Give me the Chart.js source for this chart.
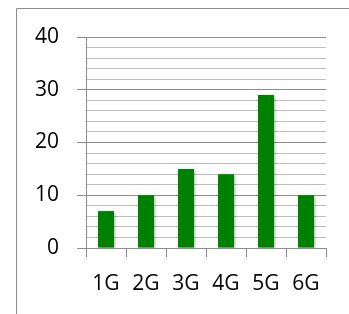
<!DOCTYPE html>
<html>
<head>
<meta charset="utf-8">
<script src="https://cdn.jsdelivr.net/npm/chart.js@4/dist/chart.umd.min.js"></script>
<style>
  html, body { margin: 0; padding: 0; background: #fff; }
  canvas { display: block; }
</style>
</head>
<body>
<canvas id="genChart" width="349" height="314"></canvas>
<script>
const categories = ["1G", "2G", "3G", "4G", "5G", "6G"];
const values = [7, 10, 15, 14, 29, 10];
const yMin = 0;
const yMax = 40;
const yStep = 2;      // minor grid every 2
const yLabelStep = 10; // labels on multiples of 10

const fontFamily = "'Open Sans', 'Liberation Sans', sans-serif";

// outer frame (left + top edges only are visible)
const framePlugin = {
    id: "frame",
    beforeDraw(chart) {
        const ctx = chart.ctx;
        ctx.save();
        ctx.strokeStyle = "#8c8c8c";
        ctx.lineWidth = 1;
        ctx.beginPath();
        ctx.moveTo(16.5, chart.height);
        ctx.lineTo(16.5, 8.5);
        ctx.lineTo(chart.width, 8.5);
        ctx.stroke();
        ctx.restore();
    }
};

// soft shadow under the bars
const shadowPlugin = {
    id: "barShadow",
    beforeDatasetDraw(chart) {
        const ctx = chart.ctx;
        ctx.save();
        ctx.shadowColor = "rgba(0,0,0,0.3)";
        ctx.shadowBlur = 3;
        ctx.shadowOffsetX = 1;
        ctx.shadowOffsetY = 1;
    },
    afterDatasetDraw(chart) {
        chart.ctx.restore();
    }
};

const genChart = new Chart(document.querySelector("#genChart").getContext("2d"), {
    type: "bar",
    data: {
        labels: categories,
        datasets: [
            {
                data: values,
                backgroundColor: "#008000",
                borderWidth: 0,
                categoryPercentage: 1,
                barPercentage: 0.4
            }
        ]
    },
    options: {
        responsive: false,
        animation: false,
        layout: { padding: { top: 37, right: 23, left: 0, bottom: 0 } },
        plugins: {
            legend: { display: false },
            tooltip: { enabled: false }
        },
        scales: {
            x: {
                afterFit(scale) { scale.height = 66; },
                grid: {
                    offset: true,
                    drawOnChartArea: false,
                    tickLength: 9,
                    color: "#8c8c8c"
                },
                border: { color: "#8c8c8c" },
                ticks: {
                    autoSkip: false,
                    maxRotation: 0,
                    padding: 14,
                    color: "#000",
                    font: { family: fontFamily, size: 21 }
                }
            },
            y: {
                min: yMin,
                max: yMax,
                afterFit(scale) { scale.width = 86; },
                grid: {
                    tickLength: 9,
                    color: ctx => (ctx.tick && ctx.tick.value % yLabelStep === 0 ? "#8c8c8c" : "#bdbdbd"),
                    tickColor: ctx => (ctx.tick && ctx.tick.value % yLabelStep === 0 ? "#8c8c8c" : "rgba(0,0,0,0)")
                },
                border: { color: "#8c8c8c" },
                ticks: {
                    autoSkip: false,
                    stepSize: yStep,
                    padding: 18,
                    color: "#000",
                    font: { family: fontFamily, size: 21 },
                    callback: v => (v % yLabelStep === 0 ? v : "")
                }
            }
        }
    },
    plugins: [framePlugin, shadowPlugin]
});
</script>
</body>
</html>
